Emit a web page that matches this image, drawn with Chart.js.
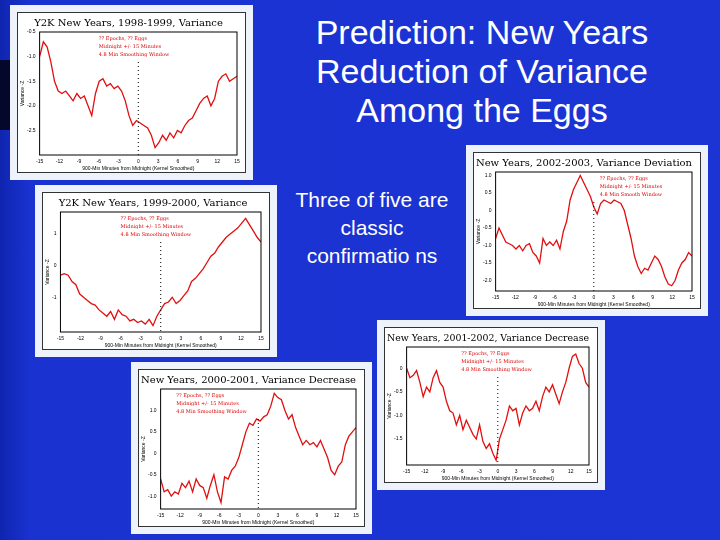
<!DOCTYPE html>
<html><head><meta charset="utf-8">
<script src="https://cdn.jsdelivr.net/npm/chart.js@4/dist/chart.umd.min.js"></script>
<style>
body{margin:0;width:720px;height:540px;overflow:hidden;background:linear-gradient(90deg,#0f25b0 0px,#1a32d0 30px,#1c34d4 100%);position:relative;font-family:Arial,"Liberation Sans",sans-serif}
.strip{position:absolute;left:0;top:60px;width:12px;height:70px;background:#05082a}
.panel{position:absolute;background:#eef3fb;box-sizing:border-box;padding:7px}
.inner{width:100%;height:100%;background:#fff;border:1px solid #333;box-sizing:border-box;position:relative}
canvas{position:absolute;left:0;top:0}
.h1{position:absolute;left:262px;width:440px;top:13px;color:#fff;font-size:34px;text-align:center;line-height:39px}
.h2{position:absolute;left:292px;width:160px;top:186px;color:#fff;font-size:21px;text-align:center;line-height:28px}
</style></head><body>
<div class="strip"></div>
<div class="h1">Prediction: New Years Reduction of Variance Among the Eggs</div>
<div class="h2">Three of five are classic confirmatio ns</div>
<div class="panel" style="left:10px;top:5px;width:243px;height:175px"><div class="inner"><canvas id="c1"></canvas></div></div>
<div class="panel" style="left:35px;top:185px;width:242px;height:172px"><div class="inner"><canvas id="c2"></canvas></div></div>
<div class="panel" style="left:466px;top:145px;width:242px;height:171px"><div class="inner"><canvas id="c3"></canvas></div></div>
<div class="panel" style="left:131px;top:362px;width:241px;height:172px"><div class="inner"><canvas id="c4"></canvas></div></div>
<div class="panel" style="left:377px;top:320px;width:228px;height:170px"><div class="inner"><canvas id="c5"></canvas></div></div>
<script>
const xTicks=[-15,-12,-9,-6,-3,0,3,6,9,12,15];
const yTicks1998=[-0.5,-1,-1.5,-2,-2.5];
const yTicks1999=[1,0,-1];
const yTicks2002=[1,0.5,0,-0.5,-1,-1.5,-2];
const yTicks2000=[1,0.5,0,-0.5,-1];
const yTicks2001=[0,-0.5,-1,-1.5];
const v1998=[-1.0,-0.7,-0.8,-1.1,-1.5,-1.7,-1.75,-1.7,-1.8,-1.9,-1.75,-1.85,-1.8,-2.0,-2.2,-1.75,-1.5,-1.45,-1.6,-1.55,-1.65,-1.6,-1.7,-1.9,-2.2,-2.4,-2.3,-2.35,-2.4,-2.45,-2.6,-2.85,-2.75,-2.6,-2.7,-2.55,-2.65,-2.5,-2.55,-2.4,-2.3,-2.25,-2.1,-1.95,-1.85,-1.8,-2.0,-1.85,-1.5,-1.4,-1.35,-1.5,-1.45,-1.4];
const v1999=[-0.3,-0.25,-0.3,-0.5,-0.6,-0.9,-1.0,-1.1,-1.2,-1.25,-1.4,-1.5,-1.6,-1.45,-1.7,-1.4,-1.55,-1.6,-1.75,-1.7,-1.8,-1.75,-1.85,-1.7,-1.9,-1.6,-1.4,-1.2,-1.15,-1.0,-1.2,-1.1,-0.95,-0.8,-0.5,-0.4,-0.25,-0.1,0.1,0.3,0.4,0.6,0.75,0.9,1.0,1.1,1.2,1.35,1.5,1.3,1.1,0.9,0.75];
const v2002=[-0.8,-0.5,-0.7,-0.9,-0.95,-1.0,-1.1,-1.0,-1.15,-1.0,-0.95,-1.2,-1.3,-1.5,-0.8,-1.0,-0.9,-1.0,-0.85,-1.1,-0.6,-0.3,0.3,0.6,0.8,1.0,0.8,0.6,0.4,0.1,-0.1,0.2,0.3,0.25,0.2,0.3,0.25,0.2,0.0,-0.4,-0.8,-1.3,-1.6,-1.8,-1.65,-1.7,-1.5,-1.3,-1.4,-1.6,-1.9,-2.1,-2.15,-2.0,-1.7,-1.5,-1.4,-1.2,-1.3];
const v2000=[-0.6,-0.9,-0.85,-1.0,-0.9,-0.95,-0.7,-0.8,-0.65,-0.9,-0.6,-0.75,-0.8,-1.05,-0.75,-0.5,-0.9,-1.15,-0.55,-0.6,-0.4,-0.3,-0.1,0.2,0.5,0.7,0.65,0.8,0.75,0.85,0.9,1.1,1.4,1.3,1.25,1.0,0.8,0.9,0.6,0.4,0.2,0.3,0.2,0.25,0.15,0.3,0.1,-0.1,-0.4,-0.5,-0.3,-0.2,0.2,0.4,0.5,0.6];
const v2001=[0,-0.2,-0.15,-0.05,-0.3,-0.6,-0.4,-0.5,-0.2,-0.05,-0.3,-0.4,-0.7,-0.9,-0.95,-1.2,-1.0,-1.3,-1.1,-1.25,-1.4,-1.5,-1.2,-1.55,-1.7,-1.6,-1.8,-1.95,-1.5,-1.3,-1.1,-0.8,-0.9,-0.85,-1.2,-0.95,-0.8,-0.9,-0.85,-0.7,-0.9,-0.6,-0.4,-0.5,-0.35,-0.55,-0.75,-0.5,-0.3,0.0,0.25,0.3,0.1,0.0,-0.3,-0.4];
const xLabel="900-Min Minutes from Midnight (Kernel Smoothed)";

const deco={id:'deco',afterDatasetsDraw(ch,a,o){
  const c=ch.ctx,ca=ch.chartArea,x0=ch.scales.x.getPixelForValue(0);
  c.save();c.strokeStyle='#000';c.lineWidth=1;c.strokeRect(ca.left,ca.top,ca.width,ca.height);
  c.setLineDash([1,3]);c.beginPath();c.moveTo(x0,ca.top+30);c.lineTo(x0,ca.bottom);c.stroke();c.setLineDash([]);
  c.fillStyle='#d00';c.font='5px "DejaVu Serif",serif';
  const lx=ca.left+ca.width*o.lx;
  o.lines.forEach((t,i)=>c.fillText(t,lx,ca.top+8+i*8));
  c.restore();}};

function make(id,vals,title,lines,lx,ymin,ymax,yt){
  const el=document.getElementById(id),p=el.parentElement;
  el.width=p.clientWidth;el.height=p.clientHeight;el.style.width=p.clientWidth+'px';el.style.height=p.clientHeight+'px';
  const n=vals.length;
  new Chart(el,{type:'line',data:{datasets:[{data:vals.map((v,i)=>({x:-15+30*i/(n-1),y:v})),borderColor:'#e01010',borderWidth:1.3,pointRadius:0,tension:0}]},
  options:{responsive:false,animation:false,layout:{padding:{left:2,right:8,top:0,bottom:0}},
   plugins:{legend:{display:false},tooltip:{enabled:false},deco:{lines:lines,lx:lx},
    title:{display:true,text:title,color:'#000',font:{family:'"DejaVu Serif","Liberation Serif",serif',size:10,weight:'normal'},padding:{top:4,bottom:3}}},
   scales:{x:{type:'linear',min:-15,max:15,afterBuildTicks:s=>{s.ticks=xTicks.map(v=>({value:v}))},
      grid:{display:false,drawTicks:true,tickLength:3},border:{display:false},
      ticks:{font:{size:5},color:'#000',padding:1},title:{display:true,text:xLabel,font:{size:5},color:'#000',padding:0}},
    y:{min:ymin,max:ymax,afterBuildTicks:s=>{s.ticks=yt.map(v=>({value:v}))},
      ticks:{font:{size:5},color:'#000',padding:1},grid:{display:false,tickLength:3},border:{display:false},
      title:{display:true,text:'Variance -Z',font:{size:5},color:'#000',padding:0}}}},plugins:[deco]});
}
make('c1',v1998,'Y2K New Years, 1998-1999, Variance',['?? Epochs, ?? Eggs','Midnight +/- 15 Minutes','4.8 Min Smoothing Window'],0.3,-3,-0.5,yTicks1998);
make('c2',v1999,'Y2K New Years, 1999-2000, Variance',['?? Epochs, ?? Eggs','Midnight +/- 15 Minutes','4.8 Min Smoothing Window'],0.3,-2.1,1.7,yTicks1999);
make('c3',v2002,'New Years, 2002-2003, Variance Deviation',['?? Epochs, ?? Eggs','Midnight +/- 15 Minutes','4.8 Min Smooth Window'],0.53,-2.3,1.1,yTicks2002);
make('c4',v2000,'New Years, 2000-2001, Variance Decrease',['?? Epochs, ?? Eggs','Midnight +/- 15 Minutes','4.8 Min Smoothing Window'],0.08,-1.3,1.5,yTicks2000);
make('c5',v2001,'New Years, 2001-2002, Variance Decrease',['?? Epochs, ?? Eggs','Midnight +/- 15 Minutes','4.8 Min Smoothing Window'],0.3,-2.05,0.45,yTicks2001);
</script></body></html>
